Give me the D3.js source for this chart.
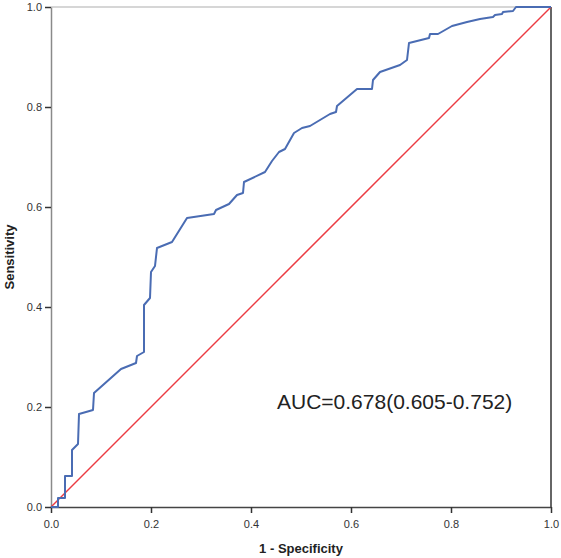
<!DOCTYPE html>
<html>
<head>
<meta charset="utf-8">
<script src="https://cdn.jsdelivr.net/npm/d3@7"></script>
<style>
  body { margin: 0; background: #fff; }
  text { font-family: "Liberation Sans", Arial, sans-serif; }
</style>
</head>
<body>
<svg id="drawing_region"></svg>
<script>
// ROC curve points: 1 - specificity, sensitivity
var fpr = [0, 0.014, 0.014, 0.028, 0.028, 0.042, 0.042, 0.054, 0.056, 0.084, 0.086, 0.14, 0.17, 0.172,
  0.186, 0.186, 0.198, 0.2, 0.208, 0.212, 0.242, 0.272, 0.326, 0.33, 0.356, 0.372, 0.384, 0.386,
  0.428, 0.442, 0.456, 0.468, 0.486, 0.502, 0.518, 0.558, 0.57, 0.572, 0.612, 0.642, 0.644, 0.658,
  0.698, 0.712, 0.716, 0.748, 0.756, 0.758, 0.774, 0.802, 0.832, 0.858, 0.884, 0.888, 0.902, 0.904,
  0.924, 0.93, 1];
var tpr = [0, 0, 0.018, 0.018, 0.062, 0.062, 0.114, 0.126, 0.186, 0.194, 0.228, 0.276, 0.288, 0.302,
  0.31, 0.404, 0.418, 0.47, 0.482, 0.518, 0.53, 0.578, 0.586, 0.594, 0.606, 0.624, 0.628, 0.65,
  0.67, 0.692, 0.71, 0.716, 0.748, 0.758, 0.762, 0.786, 0.79, 0.802, 0.836, 0.836, 0.854, 0.87,
  0.884, 0.894, 0.928, 0.936, 0.938, 0.946, 0.946, 0.962, 0.97, 0.976, 0.98, 0.984, 0.986, 0.99,
  0.992, 1, 1];
var tickValues = [0, 0.2, 0.4, 0.6, 0.8, 1.0];
var aucLabel = 'AUC=0.678(0.605-0.752)';

var data = fpr.map(function(x, i) { return { x: x, y: tpr[i] }; });

var margin = { top: 7, right: 10, bottom: 51, left: 51 };
var width = 561 - margin.left - margin.right;
var height = 558 - margin.top - margin.bottom;

var svg = d3.select('#drawing_region')
    .attr('width', 561)
    .attr('height', 558)
    .append('g')
    .attr('transform', 'translate(' + margin.left + ',' + margin.top + ')');

var xScale = d3.scaleLinear().domain([0, 1]).range([0, width]);
var yScale = d3.scaleLinear().domain([0, 1]).range([height, 0]);

// frame: top light, right dark
svg.append('line')
    .attr('x1', 0).attr('x2', width).attr('y1', 0).attr('y2', 0)
    .attr('stroke', '#c8c8c8').attr('stroke-width', 1.5);
svg.append('line')
    .attr('x1', width).attr('x2', width).attr('y1', 0).attr('y2', height)
    .attr('stroke', '#333').attr('stroke-width', 1.5);

var xAxis = svg.append('g')
    .attr('transform', 'translate(0,' + height + ')')
    .call(d3.axisBottom(xScale).tickValues(tickValues).tickFormat(d3.format('.1f')).tickSize(6).tickSizeOuter(0));
xAxis.select('.domain').attr('stroke', '#444').attr('stroke-width', 1.5);
xAxis.selectAll('line').attr('stroke', '#333').attr('stroke-width', 1.5);
xAxis.selectAll('text').attr('fill', '#333').style('font-size', '11px').attr('dy', '1.1em');

var yAxis = svg.append('g')
    .call(d3.axisLeft(yScale).tickValues(tickValues).tickFormat(d3.format('.1f')).tickSize(6).tickSizeOuter(0));
yAxis.select('.domain').attr('stroke', '#8a8a8a').attr('stroke-width', 1.5);
yAxis.selectAll('line').attr('stroke', '#333').attr('stroke-width', 1.5);
yAxis.selectAll('text').attr('fill', '#333').style('font-size', '11px').attr('x', -9);

// reference diagonal
svg.append('line')
    .attr('x1', xScale(0)).attr('y1', yScale(0))
    .attr('x2', xScale(1)).attr('y2', yScale(1))
    .attr('stroke', '#ec3b42').attr('stroke-width', 1.5);

// ROC curve
var line = d3.line().x(d => xScale(d.x)).y(d => yScale(d.y));
svg.append('path')
    .datum(data)
    .attr('d', line)
    .attr('fill', 'none')
    .attr('stroke', '#4a6cb3')
    .attr('stroke-width', 2)
    .attr('stroke-linejoin', 'round');

svg.append('text')
    .attr('x', xScale(0.452))
    .attr('y', yScale(0.197))
    .style('font-size', '21px')
    .attr('fill', '#222')
    .text(aucLabel);

svg.append('text')
    .attr('x', width / 2)
    .attr('y', height + 46)
    .style('text-anchor', 'middle')
    .style('font-size', '13px')
    .style('font-weight', 'bold')
    .attr('fill', '#222')
    .text('1 - Specificity');

svg.append('text')
    .attr('transform', 'rotate(-90)')
    .attr('x', 0 - (height / 2))
    .attr('y', 0 - margin.left + 14)
    .style('text-anchor', 'middle')
    .style('font-size', '13px')
    .style('font-weight', 'bold')
    .attr('fill', '#222')
    .text('Sensitivity');
</script>
</body>
</html>
